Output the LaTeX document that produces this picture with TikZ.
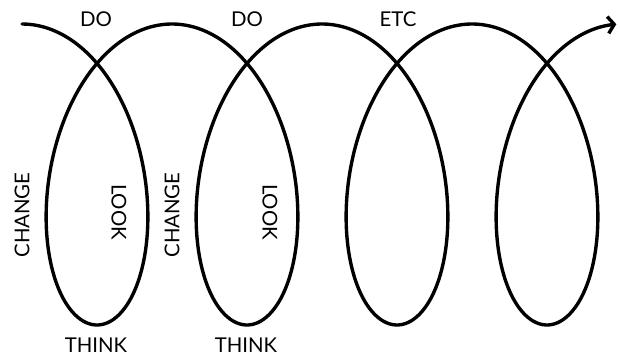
\documentclass[tikz,border=0pt]{standalone}
\usepackage{fontspec}
\setmainfont{Lato}
\usetikzlibrary{arrows.meta}
\begin{document}
\begin{tikzpicture}[
    x=0.025cm, y=0.025cm,
    spiral/.style={line width=2.4pt, line cap=round},
    word/.style={font=\fontsize{14.5}{16}\selectfont, inner sep=0pt}
]
    \useasboundingbox (0,0) rectangle (620,358);

    % The looping line
    \draw[spiral, -{Straight Barb[length=4.5pt, width=12pt]}]
        plot[domain=0:{8*pi-0.05}, samples=500, smooth, variable=\t]
        ({22 + 23.873*\t + 85*sin(\t r)}, {183.5 + 150.5*cos(\t r)});

    % Top labels
    \node[word] (do1) at (96,339) {DO};
    \node[word] (do2) at (247,339) {DO};
    \node[word] (etc) at (398,339) {ETC};

    % Side labels
    \node[word, rotate=90] (change1) at (22,143) {CHANGE};
    \node[word, rotate=90] (change2) at (172,143) {CHANGE};
    \node[word, rotate=-90] (look1) at (119,146) {LOOK};
    \node[word, rotate=-90] (look2) at (270,146) {LOOK};

    % Bottom labels
    \node[word] (think1) at (96,13) {THINK};
    \node[word] (think2) at (246,13) {THINK};

\end{tikzpicture}
\end{document}
